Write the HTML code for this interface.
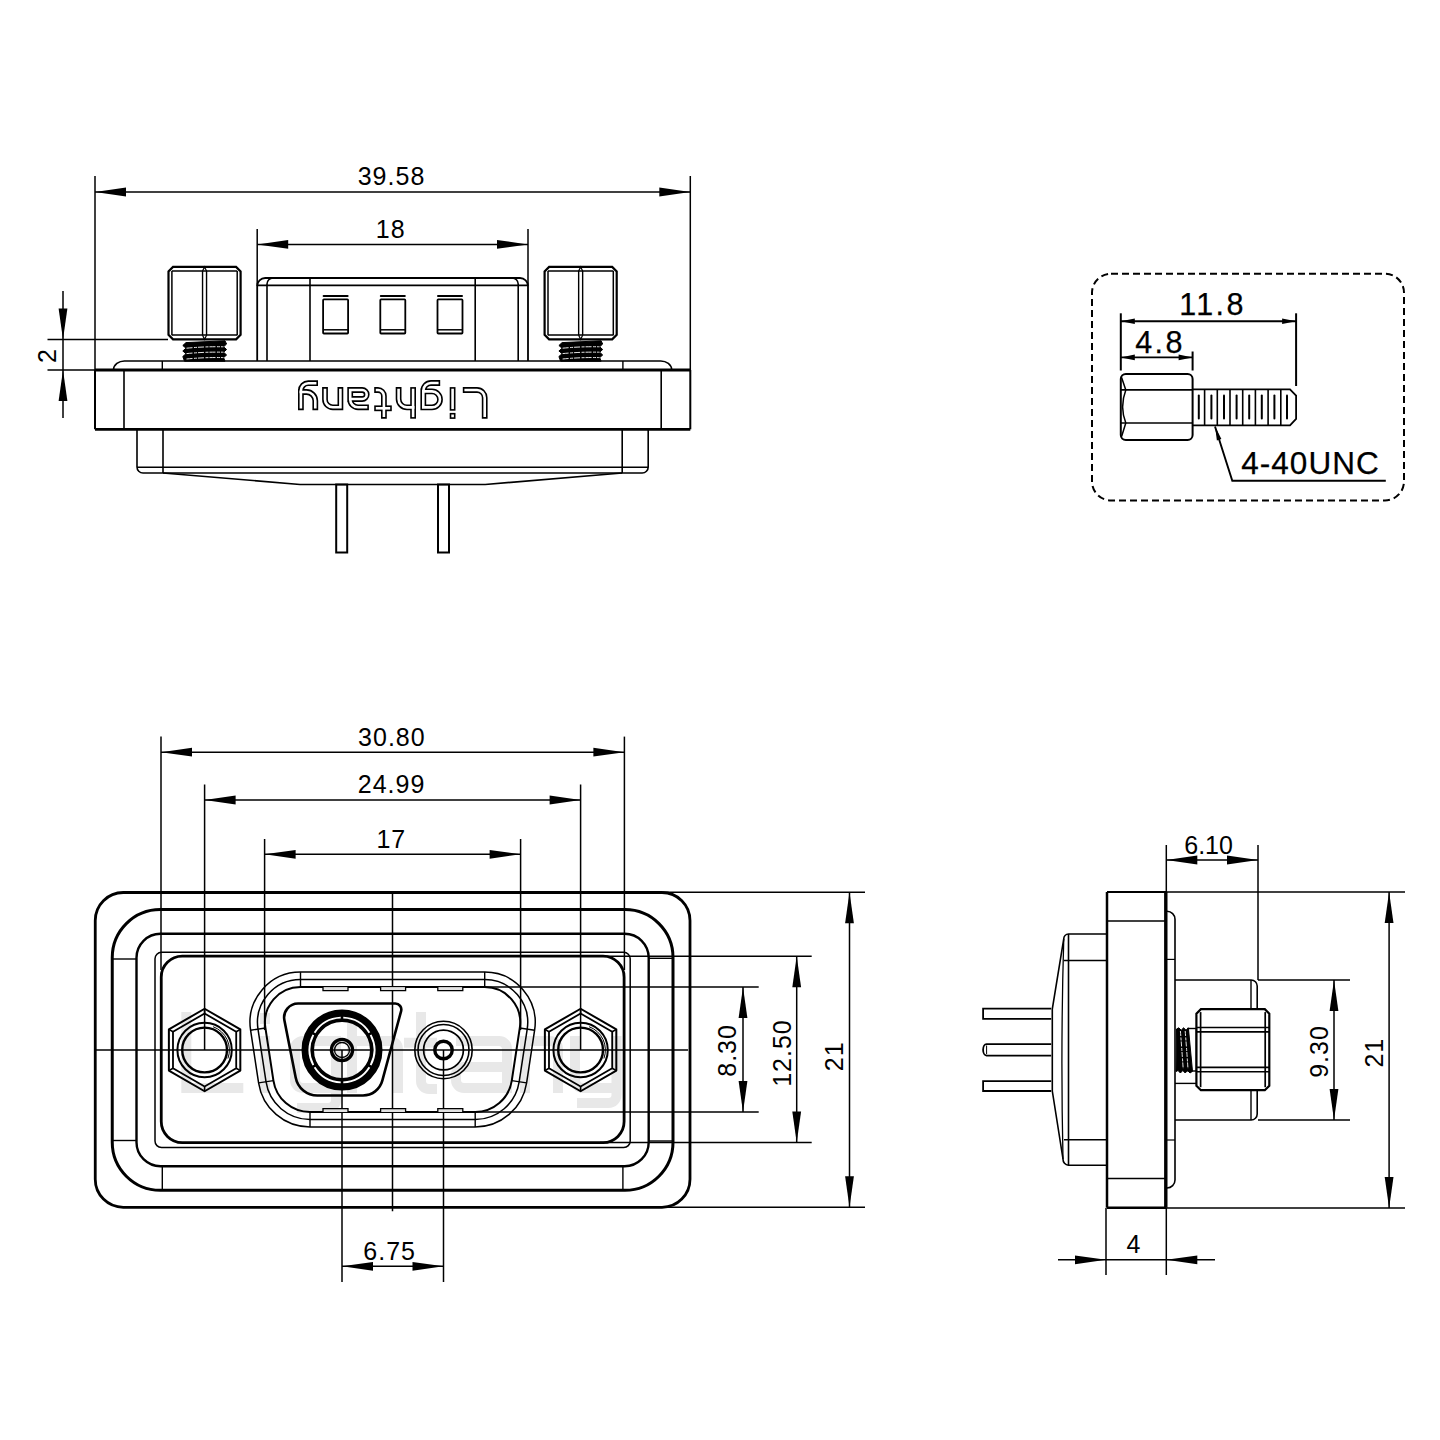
<!DOCTYPE html>
<html><head><meta charset="utf-8"><title>Connector drawing</title>
<style>html,body{margin:0;padding:0;background:#fff;width:1440px;height:1440px;overflow:hidden}
svg{display:block;font-family:"Liberation Sans",sans-serif}</style></head>
<body>
<svg width="1440" height="1440" viewBox="0 0 1440 1440" stroke="#000" fill="none">
<line x1="95.00" y1="176.00" x2="95.00" y2="370.00" stroke-width="1.5"/>
<line x1="690.30" y1="176.00" x2="690.30" y2="370.00" stroke-width="1.5"/>
<line x1="95.00" y1="192.00" x2="690.30" y2="192.00" stroke-width="1.5"/>
<path d="M95.00,192.00 L126.00,187.60 L126.00,196.40 Z" fill="#000" stroke="none"/>
<path d="M690.30,192.00 L659.30,196.40 L659.30,187.60 Z" fill="#000" stroke="none"/>
<text x="391.50" y="185.40" font-size="25" text-anchor="middle" letter-spacing="1" font-family="Liberation Sans" fill="#000" stroke="none">39.58</text>
<line x1="257.20" y1="229.00" x2="257.20" y2="286.00" stroke-width="1.5"/>
<line x1="528.00" y1="229.00" x2="528.00" y2="286.00" stroke-width="1.5"/>
<line x1="257.20" y1="244.40" x2="528.00" y2="244.40" stroke-width="1.5"/>
<path d="M257.20,244.40 L288.20,240.00 L288.20,248.80 Z" fill="#000" stroke="none"/>
<path d="M528.00,244.40 L497.00,248.80 L497.00,240.00 Z" fill="#000" stroke="none"/>
<text x="390.70" y="237.90" font-size="25" text-anchor="middle" letter-spacing="1" font-family="Liberation Sans" fill="#000" stroke="none">18</text>
<line x1="95.00" y1="370.00" x2="690.30" y2="370.00" stroke-width="2.8"/>
<line x1="95.00" y1="429.30" x2="690.30" y2="429.30" stroke-width="2.8"/>
<line x1="95.00" y1="370.00" x2="95.00" y2="429.30" stroke-width="2"/>
<line x1="690.30" y1="370.00" x2="690.30" y2="429.30" stroke-width="2"/>
<line x1="124.00" y1="370.00" x2="124.00" y2="429.30" stroke-width="1.6"/>
<line x1="661.20" y1="370.00" x2="661.20" y2="429.30" stroke-width="1.6"/>
<path d="M113.5,370 A11,9 0 0 1 125,361 H660.2 A11,9 0 0 1 671.7,370" stroke-width="1.6" fill="none" />
<line x1="162.30" y1="361.00" x2="162.30" y2="370.00" stroke-width="1.4"/>
<line x1="622.90" y1="361.00" x2="622.90" y2="370.00" stroke-width="1.4"/>
<path d="M257.2,361 V286 A8,8 0 0 1 265.2,278 H520.0 A8,8 0 0 1 528.0,286 V361" stroke-width="1.8" fill="none" />
<line x1="257.20" y1="285.40" x2="528.00" y2="285.40" stroke-width="1.6"/>
<path d="M267,361 V284 A6,6 0 0 1 273,278" stroke-width="1.6" fill="none" />
<path d="M518.2,361 V284 A6,6 0 0 0 512.2,278" stroke-width="1.6" fill="none" />
<line x1="310.00" y1="278.00" x2="310.00" y2="361.00" stroke-width="1.6"/>
<line x1="475.20" y1="278.00" x2="475.20" y2="361.00" stroke-width="1.6"/>
<line x1="323.6" y1="296" x2="347.6" y2="296" stroke-width="2" stroke-linecap="round"/>
<rect x="323.10" y="299.40" width="25.00" height="34.10" rx="0.8" stroke-width="1.8" fill="none"/>
<line x1="323.10" y1="329.80" x2="348.10" y2="329.80" stroke-width="1.5"/>
<line x1="380.8" y1="296" x2="404.8" y2="296" stroke-width="2" stroke-linecap="round"/>
<rect x="380.30" y="299.40" width="25.00" height="34.10" rx="0.8" stroke-width="1.8" fill="none"/>
<line x1="380.30" y1="329.80" x2="405.30" y2="329.80" stroke-width="1.5"/>
<line x1="438.0" y1="296" x2="462.0" y2="296" stroke-width="2" stroke-linecap="round"/>
<rect x="437.50" y="299.40" width="25.00" height="34.10" rx="0.8" stroke-width="1.8" fill="none"/>
<line x1="437.50" y1="329.80" x2="462.50" y2="329.80" stroke-width="1.5"/>
<path d="M173.0,266.9 H236.1 L240.6,271.4 V334.8 L236.1,339.3 H173.0 L168.5,334.8 V271.4 Z" stroke-width="2.2" fill="none" />
<line x1="171.90" y1="271.00" x2="237.20" y2="271.00" stroke-width="1.5"/>
<line x1="171.90" y1="335.00" x2="237.20" y2="335.00" stroke-width="1.5"/>
<line x1="171.90" y1="270.90" x2="171.90" y2="335.30" stroke-width="1.5"/>
<line x1="237.20" y1="270.90" x2="237.20" y2="335.30" stroke-width="1.5"/>
<line x1="202.55" y1="270.90" x2="202.55" y2="335.30" stroke-width="1.4"/>
<line x1="206.55" y1="270.90" x2="206.55" y2="335.30" stroke-width="1.4"/>
<path d="M202.55,270.9 L204.55,266.9 L206.55,270.9" stroke-width="1.2" fill="none" />
<path d="M202.55,335.3 L204.55,339.3 L206.55,335.3" stroke-width="1.2" fill="none" />
<path d="M186.0,342.6 L225.0,340.8 L226.6,344 L223.6,346.8 L226.6,349.5 L223.6,352.2 L226.6,355 L223.6,357.6 L225.0,361.2 H184.5 L182.8,356.5 L186.0,353.7 L182.8,351 L186.0,348.2 L182.8,345.5 Z" fill="#000" stroke="#000" stroke-width="1" stroke-linejoin="round"/>
<path d="M186.5,348.20000000000005 Q205.0,346.40000000000003 223.4,346.8" stroke="#fff" stroke-width="0.9" stroke-dasharray="6 1.5 3 1"/>
<path d="M186.5,353.6 Q205.0,351.8 223.4,352.2" stroke="#fff" stroke-width="0.9" stroke-dasharray="6 1.5 3 1"/>
<path d="M186.5,359.0 Q205.0,357.2 223.4,357.59999999999997" stroke="#fff" stroke-width="0.9" stroke-dasharray="6 1.5 3 1"/>
<path d="M549.1,266.9 H612.2 L616.7,271.4 V334.8 L612.2,339.3 H549.1 L544.6,334.8 V271.4 Z" stroke-width="2.2" fill="none" />
<line x1="548.00" y1="271.00" x2="613.30" y2="271.00" stroke-width="1.5"/>
<line x1="548.00" y1="335.00" x2="613.30" y2="335.00" stroke-width="1.5"/>
<line x1="548.00" y1="270.90" x2="548.00" y2="335.30" stroke-width="1.5"/>
<line x1="613.30" y1="270.90" x2="613.30" y2="335.30" stroke-width="1.5"/>
<line x1="578.65" y1="270.90" x2="578.65" y2="335.30" stroke-width="1.4"/>
<line x1="582.65" y1="270.90" x2="582.65" y2="335.30" stroke-width="1.4"/>
<path d="M578.65,270.9 L580.65,266.9 L582.65,270.9" stroke-width="1.2" fill="none" />
<path d="M578.65,335.3 L580.65,339.3 L582.65,335.3" stroke-width="1.2" fill="none" />
<path d="M562.1,342.6 L601.1,340.8 L602.7,344 L599.7,346.8 L602.7,349.5 L599.7,352.2 L602.7,355 L599.7,357.6 L601.1,361.2 H560.6 L558.9000000000001,356.5 L562.1,353.7 L558.9000000000001,351 L562.1,348.2 L558.9000000000001,345.5 Z" fill="#000" stroke="#000" stroke-width="1" stroke-linejoin="round"/>
<path d="M562.6,348.20000000000005 Q581.1,346.40000000000003 599.5,346.8" stroke="#fff" stroke-width="0.9" stroke-dasharray="6 1.5 3 1"/>
<path d="M562.6,353.6 Q581.1,351.8 599.5,352.2" stroke="#fff" stroke-width="0.9" stroke-dasharray="6 1.5 3 1"/>
<path d="M562.6,359.0 Q581.1,357.2 599.5,357.59999999999997" stroke="#fff" stroke-width="0.9" stroke-dasharray="6 1.5 3 1"/>
<path d="M137,429.3 V467 A6,6 0 0 0 143,473 H163 L300,484.5 H485.20000000000005 L622.2,473 H642.2 A6,6 0 0 0 648.2,467 V429.3" stroke-width="1.6" fill="none" />
<line x1="137.00" y1="467.20" x2="648.20" y2="467.20" stroke-width="1.5"/>
<line x1="163.00" y1="473.00" x2="622.20" y2="473.00" stroke-width="1.5"/>
<line x1="163.00" y1="429.30" x2="163.00" y2="473.00" stroke-width="1.6"/>
<line x1="622.20" y1="429.30" x2="622.20" y2="473.00" stroke-width="1.6"/>
<rect x="336.20" y="484.50" width="11.00" height="68.00" rx="0" stroke-width="2" fill="none"/>
<rect x="438.00" y="484.50" width="11.00" height="68.00" rx="0" stroke-width="2" fill="none"/>
<line x1="63.00" y1="291.00" x2="63.00" y2="418.00" stroke-width="1.5"/>
<path d="M63.00,339.40 L58.60,308.40 L67.40,308.40 Z" fill="#000" stroke="none"/>
<path d="M63.00,370.00 L67.40,401.00 L58.60,401.00 Z" fill="#000" stroke="none"/>
<line x1="47.50" y1="339.40" x2="168.00" y2="339.40" stroke-width="1.5"/>
<line x1="47.50" y1="370.00" x2="95.00" y2="370.00" stroke-width="1.5"/>
<text x="55.80" y="356.00" font-size="25" text-anchor="middle" letter-spacing="0" font-family="Liberation Sans" fill="#000" stroke="none" transform="rotate(-90 55.80 356.00)">2</text>
<rect x="1092" y="273.7" width="312" height="226.7" rx="19" stroke-width="2" fill="none" stroke-dasharray="7 4"/>
<line x1="1120.80" y1="313.30" x2="1120.80" y2="370.50" stroke-width="2"/>
<line x1="1296.10" y1="313.30" x2="1296.10" y2="386.00" stroke-width="2"/>
<line x1="1120.80" y1="321.25" x2="1296.10" y2="321.25" stroke-width="1.8"/>
<path d="M1120.80,321.25 L1134.80,318.45 L1134.80,324.05 Z" fill="#000" stroke="none"/>
<path d="M1296.10,321.25 L1282.10,324.05 L1282.10,318.45 Z" fill="#000" stroke="none"/>
<line x1="1192.60" y1="351.50" x2="1192.60" y2="370.50" stroke-width="2"/>
<line x1="1120.80" y1="357.40" x2="1192.60" y2="357.40" stroke-width="1.8"/>
<path d="M1120.80,357.40 L1134.80,354.60 L1134.80,360.20 Z" fill="#000" stroke="none"/>
<path d="M1192.60,357.40 L1178.60,360.20 L1178.60,354.60 Z" fill="#000" stroke="none"/>
<text x="1212.50" y="314.90" font-size="30.5" text-anchor="middle" letter-spacing="2.4" font-family="Liberation Sans" fill="#000" stroke="#000" stroke-width="0.25">11.8</text>
<text x="1160.00" y="353.30" font-size="30.5" text-anchor="middle" letter-spacing="2.4" font-family="Liberation Sans" fill="#000" stroke="#000" stroke-width="0.25">4.8</text>
<rect x="1120.80" y="374.00" width="71.80" height="66.00" rx="5" stroke-width="2" fill="none"/>
<line x1="1120.80" y1="389.90" x2="1192.60" y2="389.90" stroke-width="1.6"/>
<line x1="1120.80" y1="423.00" x2="1192.60" y2="423.00" stroke-width="1.6"/>
<path d="M1121.6,377.5 L1125.8,389.9 Q1119.5,406.5 1125.8,423 L1121.6,436.5" stroke-width="1.5" fill="none" />
<path d="M1192.6,389.4 H1290 L1296.1,395.6 V419 L1290,425.3 H1192.6" stroke-width="1.8" fill="none" />
<line x1="1204.60" y1="389.40" x2="1204.60" y2="425.30" stroke-width="1.6"/>
<line x1="1217.30" y1="389.40" x2="1217.30" y2="425.30" stroke-width="1.6"/>
<line x1="1230.00" y1="389.40" x2="1230.00" y2="425.30" stroke-width="1.6"/>
<line x1="1242.70" y1="389.40" x2="1242.70" y2="425.30" stroke-width="1.6"/>
<line x1="1255.40" y1="389.40" x2="1255.40" y2="425.30" stroke-width="1.6"/>
<line x1="1268.10" y1="389.40" x2="1268.10" y2="425.30" stroke-width="1.6"/>
<line x1="1280.80" y1="389.40" x2="1280.80" y2="425.30" stroke-width="1.6"/>
<line x1="1198.8" y1="395.5" x2="1198.8" y2="418.5" stroke-width="2" stroke-linecap="round"/>
<line x1="1211.4" y1="395.5" x2="1211.4" y2="418.5" stroke-width="2" stroke-linecap="round"/>
<line x1="1224" y1="395.5" x2="1224" y2="418.5" stroke-width="2" stroke-linecap="round"/>
<line x1="1236.6" y1="395.5" x2="1236.6" y2="418.5" stroke-width="2" stroke-linecap="round"/>
<line x1="1249.2" y1="395.5" x2="1249.2" y2="418.5" stroke-width="2" stroke-linecap="round"/>
<line x1="1261.8" y1="395.5" x2="1261.8" y2="418.5" stroke-width="2" stroke-linecap="round"/>
<line x1="1274.4" y1="395.5" x2="1274.4" y2="418.5" stroke-width="2" stroke-linecap="round"/>
<line x1="1287" y1="395.5" x2="1287" y2="418.5" stroke-width="2" stroke-linecap="round"/>
<path d="M1215,426.5 L1232.3,480.8 H1385.8" stroke-width="1.9" fill="none" />
<path d="M1215.2,426.8 L1216.9,440.5 L1221.4,439.1 Z" fill="#000" stroke="none"/>
<text x="1310.50" y="473.80" font-size="31.5" text-anchor="middle" letter-spacing="1.0" font-family="Liberation Sans" fill="#000" stroke="#000" stroke-width="0.25">4-40UNC</text>
<g stroke="#e8e8e8" stroke-width="10" fill="none" stroke-linecap="butt"><path d="M186.3,1012 V1088 H243.3"/><path d="M265,1013 V1024"/><path d="M265,1036 V1093"/><path d="M336,1036 V1100 A8,8 0 0 1 328,1108 H297"/><path d="M336,1041 H303 A8,8 0 0 0 295,1049 V1080 A8,8 0 0 0 303,1088 H336"/><path d="M352,1012 V1093"/><path d="M352,1041 H390 A8,8 0 0 1 398,1049 V1093"/><path d="M421,1012 V1081 A8,8 0 0 0 429,1089 H437"/><path d="M404,1042.8 H437"/><path d="M456,1041 H498 A8,8 0 0 1 507,1049 V1093"/><path d="M507,1067 H464 A8,8 0 0 0 456,1075 V1080 A8,8 0 0 0 464,1088 H507"/><path d="M525,1036 V1093"/><path d="M525,1041 H550 A8,8 0 0 1 558,1049 V1093"/><path d="M575,1036 V1080 A8,8 0 0 0 583,1088 H616.5"/><path d="M616.5,1036 V1095 A8,8 0 0 1 608.5,1103 H577"/></g>
<line x1="161.00" y1="736.60" x2="161.00" y2="970.00" stroke-width="1.5"/>
<line x1="624.40" y1="736.60" x2="624.40" y2="970.00" stroke-width="1.5"/>
<line x1="162.30" y1="1166.20" x2="162.30" y2="1190.30" stroke-width="1.4"/>
<line x1="622.90" y1="1166.20" x2="622.90" y2="1190.30" stroke-width="1.4"/>
<line x1="161.00" y1="752.20" x2="624.40" y2="752.20" stroke-width="1.5"/>
<path d="M161.00,752.20 L192.00,747.80 L192.00,756.60 Z" fill="#000" stroke="none"/>
<path d="M624.40,752.20 L593.40,756.60 L593.40,747.80 Z" fill="#000" stroke="none"/>
<text x="391.90" y="746.10" font-size="25" text-anchor="middle" letter-spacing="1" font-family="Liberation Sans" fill="#000" stroke="none">30.80</text>
<line x1="204.60" y1="784.40" x2="204.60" y2="1050.00" stroke-width="1.5"/>
<line x1="580.60" y1="784.40" x2="580.60" y2="1050.00" stroke-width="1.5"/>
<line x1="204.60" y1="800.00" x2="580.60" y2="800.00" stroke-width="1.5"/>
<path d="M204.60,800.00 L235.60,795.60 L235.60,804.40 Z" fill="#000" stroke="none"/>
<path d="M580.60,800.00 L549.60,804.40 L549.60,795.60 Z" fill="#000" stroke="none"/>
<text x="391.60" y="793.00" font-size="25" text-anchor="middle" letter-spacing="1" font-family="Liberation Sans" fill="#000" stroke="none">24.99</text>
<line x1="264.60" y1="839.00" x2="264.60" y2="1030.00" stroke-width="1.5"/>
<line x1="520.60" y1="839.00" x2="520.60" y2="1030.00" stroke-width="1.5"/>
<line x1="264.60" y1="854.30" x2="520.60" y2="854.30" stroke-width="1.5"/>
<path d="M264.60,854.30 L295.60,849.90 L295.60,858.70 Z" fill="#000" stroke="none"/>
<path d="M520.60,854.30 L489.60,858.70 L489.60,849.90 Z" fill="#000" stroke="none"/>
<text x="391.30" y="847.90" font-size="25" text-anchor="middle" letter-spacing="1" font-family="Liberation Sans" fill="#000" stroke="none">17</text>
<line x1="392.50" y1="892.50" x2="392.50" y2="1211.20" stroke-width="1.5"/>
<line x1="96.00" y1="1050.00" x2="688.00" y2="1050.00" stroke-width="1.5"/>
<line x1="342.00" y1="1050.00" x2="342.00" y2="1282.00" stroke-width="1.5"/>
<line x1="443.50" y1="1050.00" x2="443.50" y2="1282.00" stroke-width="1.5"/>
<line x1="342.00" y1="1266.30" x2="443.50" y2="1266.30" stroke-width="1.5"/>
<path d="M342.00,1266.30 L373.00,1261.90 L373.00,1270.70 Z" fill="#000" stroke="none"/>
<path d="M443.50,1266.30 L412.50,1270.70 L412.50,1261.90 Z" fill="#000" stroke="none"/>
<text x="389.70" y="1259.80" font-size="25" text-anchor="middle" letter-spacing="1" font-family="Liberation Sans" fill="#000" stroke="none">6.75</text>
<line x1="663.00" y1="892.30" x2="865.00" y2="892.30" stroke-width="1.5"/>
<line x1="663.00" y1="1207.30" x2="865.00" y2="1207.30" stroke-width="1.5"/>
<line x1="849.50" y1="892.30" x2="849.50" y2="1207.30" stroke-width="1.5"/>
<path d="M849.50,892.30 L853.90,923.30 L845.10,923.30 Z" fill="#000" stroke="none"/>
<path d="M849.50,1207.30 L845.10,1176.30 L853.90,1176.30 Z" fill="#000" stroke="none"/>
<text x="843.20" y="1056.30" font-size="25" text-anchor="middle" letter-spacing="1" font-family="Liberation Sans" fill="#000" stroke="none" transform="rotate(-90 843.20 1056.30)">21</text>
<line x1="600.00" y1="956.20" x2="811.70" y2="956.20" stroke-width="1.5"/>
<line x1="600.00" y1="1142.60" x2="811.70" y2="1142.60" stroke-width="1.5"/>
<line x1="796.70" y1="956.20" x2="796.70" y2="1142.60" stroke-width="1.5"/>
<path d="M796.70,956.20 L801.10,987.20 L792.30,987.20 Z" fill="#000" stroke="none"/>
<path d="M796.70,1142.60 L792.30,1111.60 L801.10,1111.60 Z" fill="#000" stroke="none"/>
<text x="790.60" y="1053.00" font-size="25" text-anchor="middle" letter-spacing="1" font-family="Liberation Sans" fill="#000" stroke="none" transform="rotate(-90 790.60 1053.00)">12.50</text>
<line x1="485.00" y1="987.00" x2="758.70" y2="987.00" stroke-width="1.5"/>
<line x1="475.00" y1="1112.00" x2="758.70" y2="1112.00" stroke-width="1.5"/>
<line x1="743.00" y1="987.00" x2="743.00" y2="1112.00" stroke-width="1.5"/>
<path d="M743.00,987.00 L747.40,1018.00 L738.60,1018.00 Z" fill="#000" stroke="none"/>
<path d="M743.00,1112.00 L738.60,1081.00 L747.40,1081.00 Z" fill="#000" stroke="none"/>
<text x="736.20" y="1050.40" font-size="25" text-anchor="middle" letter-spacing="1" font-family="Liberation Sans" fill="#000" stroke="none" transform="rotate(-90 736.20 1050.40)">8.30</text>
<rect x="95.25" y="892.50" width="594.75" height="314.80" rx="28" stroke-width="2.8" fill="none"/>
<rect x="112.25" y="909.60" width="560.75" height="280.70" rx="48" stroke-width="3.0" fill="none"/>
<line x1="112.25" y1="959.00" x2="136.50" y2="959.00" stroke-width="1.4"/>
<line x1="112.25" y1="1140.50" x2="136.50" y2="1140.50" stroke-width="1.4"/>
<line x1="648.70" y1="958.30" x2="673.00" y2="958.30" stroke-width="1.4"/>
<line x1="648.70" y1="1141.00" x2="673.00" y2="1141.00" stroke-width="1.4"/>
<rect x="136.50" y="933.75" width="512.20" height="232.45" rx="24" stroke-width="2.4" fill="none"/>
<rect x="155.00" y="952.30" width="475.20" height="195.20" rx="6.5" stroke-width="1.5" fill="none"/>
<rect x="161.25" y="956.20" width="462.85" height="186.40" rx="21" stroke-width="2.8" fill="none"/>
<path d="M484.70,972.10 H300.50 A50.50,50.50 0 0 0 250.58,1030.21 L258.59,1082.83 A52.00,52.00 0 0 0 310.00,1127.00 H475.20 A52.00,52.00 0 0 0 526.61,1082.83 L534.62,1030.21 A50.50,50.50 0 0 0 484.70,972.10 Z" stroke-width="1.5" fill="none" />
<path d="M484.70,979.60 H300.50 A43.00,43.00 0 0 0 257.99,1029.08 L266.01,1081.70 A44.50,44.50 0 0 0 310.00,1119.50 H475.20 A44.50,44.50 0 0 0 519.19,1081.70 L527.21,1029.08 A43.00,43.00 0 0 0 484.70,979.60 Z" stroke-width="1.5" fill="none" />
<path d="M484.70,987.10 H300.50 A35.50,35.50 0 0 0 265.40,1027.95 L273.42,1080.57 A37.00,37.00 0 0 0 310.00,1112.00 H475.20 A37.00,37.00 0 0 0 511.78,1080.57 L519.80,1027.95 A35.50,35.50 0 0 0 484.70,987.10 Z" stroke-width="2.0" fill="none" />
<line x1="250.58" y1="1030.21" x2="265.40" y2="1027.95" stroke-width="1.4"/>
<line x1="534.62" y1="1030.21" x2="519.80" y2="1027.95" stroke-width="1.4"/>
<line x1="258.59" y1="1082.83" x2="273.42" y2="1080.57" stroke-width="1.4"/>
<line x1="526.61" y1="1082.83" x2="511.78" y2="1080.57" stroke-width="1.4"/>
<line x1="300.50" y1="972.10" x2="300.50" y2="987.10" stroke-width="1.4"/>
<line x1="484.70" y1="972.10" x2="484.70" y2="987.10" stroke-width="1.4"/>
<line x1="310.00" y1="1112.00" x2="310.00" y2="1127.00" stroke-width="1.4"/>
<line x1="475.20" y1="1112.00" x2="475.20" y2="1127.00" stroke-width="1.4"/>
<path d="M323,987.1 V990.6 H348 V987.1" stroke-width="1.3" fill="#e2e2e2" />
<path d="M323,1112 V1108.6 H348 V1112" stroke-width="1.3" fill="#e2e2e2" />
<path d="M380.6,987.1 V990.6 H405.6 V987.1" stroke-width="1.3" fill="#e2e2e2" />
<path d="M380.6,1112 V1108.6 H405.6 V1112" stroke-width="1.3" fill="#e2e2e2" />
<path d="M437.8,987.1 V990.6 H462.8 V987.1" stroke-width="1.3" fill="#e2e2e2" />
<path d="M437.8,1112 V1108.6 H462.8 V1112" stroke-width="1.3" fill="#e2e2e2" />
<path d="M298.13,1003.50 L395.32,1003.50 A6,6 0 0 1 401.11,1011.06 L382.31,1080.71 A20,20 0 0 1 363.00,1095.50 L317.31,1095.50 A22,22 0 0 1 295.73,1077.75 L284.39,1020.21 A14,14 0 0 1 298.13,1003.50 Z" stroke-width="2.6" fill="none" />
<circle cx="342.00" cy="1050.00" r="34.25" stroke-width="12.5" fill="none" />
<g stroke="#fff">
<path d="M369.40,1032.71 A32.4,32.4 0 0 0 343.27,1017.62 M340.73,1017.62 A32.4,32.4 0 0 0 314.60,1032.71 M313.33,1034.91 A32.4,32.4 0 0 0 313.33,1065.09 M314.60,1067.29 A32.4,32.4 0 0 0 340.73,1082.38 M343.27,1082.38 A32.4,32.4 0 0 0 369.40,1067.29 M370.67,1065.09 A32.4,32.4 0 0 0 370.67,1034.91" stroke-width="1.9" fill="none" />
</g>
<circle cx="342.00" cy="1050.00" r="10.60" stroke-width="3.3" fill="none" />
<circle cx="342.00" cy="1050.00" r="7.50" stroke-width="1.3" fill="none" />
<circle cx="443.50" cy="1050.00" r="28.70" stroke-width="1.6" fill="none" />
<circle cx="443.50" cy="1050.00" r="25.50" stroke-width="1.6" fill="none" />
<circle cx="443.50" cy="1050.00" r="19.90" stroke-width="1.7" fill="none" />
<circle cx="443.50" cy="1050.00" r="8.75" stroke-width="3.4" fill="none" />
<path d="M204.60,1008.75 L168.88,1029.38 L168.88,1070.62 L204.60,1091.25 L240.32,1070.62 L240.32,1029.38 Z" stroke-width="2.0" fill="none" stroke-linejoin="round"/>
<path d="M204.60,1013.50 L172.99,1031.75 L172.99,1068.25 L204.60,1086.50 L236.21,1068.25 L236.21,1031.75 Z" stroke-width="1.8" fill="none" />
<line x1="204.60" y1="1008.75" x2="204.60" y2="1013.50" stroke-width="1.6"/>
<line x1="168.88" y1="1029.38" x2="172.99" y2="1031.75" stroke-width="1.6"/>
<line x1="168.88" y1="1070.62" x2="172.99" y2="1068.25" stroke-width="1.6"/>
<line x1="204.60" y1="1091.25" x2="204.60" y2="1086.50" stroke-width="1.6"/>
<line x1="240.32" y1="1070.62" x2="236.21" y2="1068.25" stroke-width="1.6"/>
<line x1="240.32" y1="1029.38" x2="236.21" y2="1031.75" stroke-width="1.6"/>
<circle cx="204.60" cy="1050.00" r="27.20" stroke-width="2.0" fill="none" />
<circle cx="204.60" cy="1050.00" r="22.40" stroke-width="2.4" fill="none" />
<path d="M213.08,1026.70 A24.8,24.8 0 0 1 227.90,1058.48" stroke-width="1.0" fill="none" />
<path d="M580.60,1008.75 L544.88,1029.38 L544.88,1070.62 L580.60,1091.25 L616.32,1070.62 L616.32,1029.38 Z" stroke-width="2.0" fill="none" stroke-linejoin="round"/>
<path d="M580.60,1013.50 L548.99,1031.75 L548.99,1068.25 L580.60,1086.50 L612.21,1068.25 L612.21,1031.75 Z" stroke-width="1.8" fill="none" />
<line x1="580.60" y1="1008.75" x2="580.60" y2="1013.50" stroke-width="1.6"/>
<line x1="544.88" y1="1029.38" x2="548.99" y2="1031.75" stroke-width="1.6"/>
<line x1="544.88" y1="1070.62" x2="548.99" y2="1068.25" stroke-width="1.6"/>
<line x1="580.60" y1="1091.25" x2="580.60" y2="1086.50" stroke-width="1.6"/>
<line x1="616.32" y1="1070.62" x2="612.21" y2="1068.25" stroke-width="1.6"/>
<line x1="616.32" y1="1029.38" x2="612.21" y2="1031.75" stroke-width="1.6"/>
<circle cx="580.60" cy="1050.00" r="27.20" stroke-width="2.0" fill="none" />
<circle cx="580.60" cy="1050.00" r="22.40" stroke-width="2.4" fill="none" />
<path d="M589.08,1026.70 A24.8,24.8 0 0 1 603.90,1058.48" stroke-width="1.0" fill="none" />
<line x1="1107.00" y1="892.00" x2="1107.00" y2="1207.80" stroke-width="2.5"/>
<line x1="1165.80" y1="892.00" x2="1165.80" y2="1207.80" stroke-width="3.4"/>
<line x1="1107.00" y1="892.00" x2="1166.00" y2="892.00" stroke-width="2.0"/>
<line x1="1107.00" y1="1207.80" x2="1166.00" y2="1207.80" stroke-width="2.4"/>
<line x1="1107.00" y1="921.00" x2="1165.80" y2="921.00" stroke-width="1.6"/>
<line x1="1107.00" y1="1178.50" x2="1165.80" y2="1178.50" stroke-width="1.6"/>
<path d="M1165.8,911.3 H1167 A8,8 0 0 1 1175,919.3 V1180 A8,8 0 0 1 1167,1188 H1165.8" stroke-width="1.6" fill="none" />
<line x1="1165.80" y1="959.40" x2="1175.00" y2="959.40" stroke-width="1.2"/>
<line x1="1165.80" y1="1140.00" x2="1175.00" y2="1140.00" stroke-width="1.2"/>
<path d="M1107,934 H1068.5 A5,5 0 0 0 1063.75,939 L1052.3,1009 V1091 L1063,1159 A6,6 0 0 0 1068.5,1165.3 H1107" stroke-width="1.6" fill="none" />
<line x1="1068.50" y1="934.00" x2="1068.50" y2="1165.30" stroke-width="1.6"/>
<path d="M1063.75,939 Q1060.5,1050 1063,1159" stroke-width="1.3" fill="none" />
<line x1="1064.00" y1="960.60" x2="1107.00" y2="960.60" stroke-width="1.5"/>
<line x1="1064.00" y1="1139.80" x2="1107.00" y2="1139.80" stroke-width="1.5"/>
<path d="M1051.2,1008.7 H983.1 V1018.9 H1051.2" stroke-width="1.8" fill="none" />
<path d="M1051.2,1044.1 H986.5 A3.4,5.75 0 0 0 986.5,1055.6 H1051.2" stroke-width="1.8" fill="none" />
<line x1="986.60" y1="1045.50" x2="986.60" y2="1054.20" stroke-width="1.0"/>
<path d="M1051.2,1081.1 H983.1 V1091 H1051.2" stroke-width="1.8" fill="none" />
<path d="M1175,980 H1251.2 A6,6 0 0 1 1257.2,986 V1009.5 M1257.2,1089.8 V1114 A6,6 0 0 1 1251.2,1120 H1175" stroke-width="1.6" fill="none" />
<line x1="1251.00" y1="980.00" x2="1251.00" y2="1009.00" stroke-width="1.4"/>
<line x1="1251.00" y1="1090.00" x2="1251.00" y2="1120.00" stroke-width="1.4"/>
<line x1="1175.00" y1="1083.40" x2="1196.40" y2="1083.40" stroke-width="1.4"/>
<path d="M1200.9,1009.1 H1264.8 L1269.3,1013.6 V1085.7 L1264.8,1090.2 H1200.9 L1196.4,1085.7 V1013.6 Z" stroke-width="2.2" fill="none" />
<line x1="1200.60" y1="1012.10" x2="1200.60" y2="1087.20" stroke-width="1.7"/>
<line x1="1265.20" y1="1012.10" x2="1265.20" y2="1087.20" stroke-width="1.7"/>
<line x1="1196.40" y1="1027.50" x2="1269.30" y2="1027.50" stroke-width="1.6"/>
<line x1="1196.40" y1="1031.90" x2="1269.30" y2="1031.90" stroke-width="1.6"/>
<line x1="1196.40" y1="1067.40" x2="1269.30" y2="1067.40" stroke-width="1.6"/>
<line x1="1196.40" y1="1071.80" x2="1269.30" y2="1071.80" stroke-width="1.6"/>
<rect x="1188.00" y="1028.50" width="8.40" height="42.50" rx="0" stroke-width="1.4" fill="none"/>
<path d="M1176.5,1029 L1178.8,1027.8 L1181.2,1030.2 L1183.6,1027.8 L1186,1030.2 L1188.4,1027.8 L1192.5,1071.3 L1190,1073 L1187.6,1070.5 L1185.2,1073 L1182.8,1070.5 L1180.4,1073 L1178,1070.5 L1176,1071.5 Z" fill="#000" stroke="#000" stroke-width="1" stroke-linejoin="round"/>
<path d="M1180.4,1031 Q1181.9,1050 1183.2,1069" stroke="#fff" stroke-width="0.9" stroke-dasharray="5 1.5 3 1"/>
<path d="M1185.2,1031 Q1186.7,1050 1188.0,1069" stroke="#fff" stroke-width="0.9" stroke-dasharray="5 1.5 3 1"/>
<line x1="1166.30" y1="845.00" x2="1166.30" y2="892.00" stroke-width="1.5"/>
<line x1="1258.00" y1="845.00" x2="1258.00" y2="980.00" stroke-width="1.5"/>
<line x1="1166.30" y1="860.00" x2="1258.00" y2="860.00" stroke-width="1.5"/>
<path d="M1166.30,860.00 L1197.30,855.60 L1197.30,864.40 Z" fill="#000" stroke="none"/>
<path d="M1258.00,860.00 L1227.00,864.40 L1227.00,855.60 Z" fill="#000" stroke="none"/>
<text x="1208.60" y="854.20" font-size="25" text-anchor="middle" letter-spacing="0" font-family="Liberation Sans" fill="#000" stroke="none">6.10</text>
<line x1="1106.00" y1="1208.00" x2="1106.00" y2="1275.00" stroke-width="1.5"/>
<line x1="1166.30" y1="1208.00" x2="1166.30" y2="1275.00" stroke-width="1.5"/>
<line x1="1058.00" y1="1259.80" x2="1215.00" y2="1259.80" stroke-width="1.5"/>
<path d="M1106.00,1259.80 L1075.00,1264.20 L1075.00,1255.40 Z" fill="#000" stroke="none"/>
<path d="M1166.30,1259.80 L1197.30,1255.40 L1197.30,1264.20 Z" fill="#000" stroke="none"/>
<text x="1134.00" y="1253.00" font-size="25" text-anchor="middle" letter-spacing="1" font-family="Liberation Sans" fill="#000" stroke="none">4</text>
<line x1="1166.00" y1="892.00" x2="1405.00" y2="892.00" stroke-width="1.5"/>
<line x1="1166.00" y1="1208.00" x2="1405.00" y2="1208.00" stroke-width="1.5"/>
<line x1="1389.10" y1="892.00" x2="1389.10" y2="1208.00" stroke-width="1.5"/>
<path d="M1389.10,892.00 L1393.50,923.00 L1384.70,923.00 Z" fill="#000" stroke="none"/>
<path d="M1389.10,1208.00 L1384.70,1177.00 L1393.50,1177.00 Z" fill="#000" stroke="none"/>
<text x="1382.60" y="1052.70" font-size="25" text-anchor="middle" letter-spacing="1" font-family="Liberation Sans" fill="#000" stroke="none" transform="rotate(-90 1382.60 1052.70)">21</text>
<line x1="1258.00" y1="980.00" x2="1350.00" y2="980.00" stroke-width="1.5"/>
<line x1="1258.00" y1="1120.00" x2="1350.00" y2="1120.00" stroke-width="1.5"/>
<line x1="1334.00" y1="980.00" x2="1334.00" y2="1120.00" stroke-width="1.5"/>
<path d="M1334.00,980.00 L1338.40,1011.00 L1329.60,1011.00 Z" fill="#000" stroke="none"/>
<path d="M1334.00,1120.00 L1329.60,1089.00 L1338.40,1089.00 Z" fill="#000" stroke="none"/>
<text x="1327.60" y="1051.50" font-size="25" text-anchor="middle" letter-spacing="1" font-family="Liberation Sans" fill="#000" stroke="none" transform="rotate(-90 1327.60 1051.50)">9.30</text>
<g fill="none" stroke-linecap="square" stroke-linejoin="miter"><g stroke="#000" stroke-width="5.8"><path d="M300.9,407.3 V390.5 A7.3,7.3 0 0 1 308.2,383.2 H315.1"/><path d="M300.9,392 H306.5 A8.8,8.8 0 0 1 315.3,400.8 V407.3"/><path d="M325,390 V399.5 A7.8,7.8 0 0 0 332.8,407.3 H340.4 V390"/><path d="M366,407.3 H358 A7.8,7.8 0 0 1 350.2,399.5 V390 H362.2 A4.5,4.5 0 0 1 362.2,399 H350.2"/><path d="M377.1,390 H378 A5.9,5.9 0 0 1 383.9,395.9 V415.8"/><path d="M377.1,408.3 H388.9"/><path d="M413.1,390 V415.8"/><path d="M398.6,390 V399 A8.4,8.4 0 0 0 407,407.4 H413.1"/><path d="M437.3,383 H431 A7.7,7.7 0 0 0 423.3,390.7 V407.4 H432 A8,8 0 0 0 440,399.4 A8,8 0 0 0 432,391.4 H423.3"/><path d="M452.6,390 V407.8"/><path d="M452.6,415.8 V416"/><path d="M465.7,390 H477 A7.7,7.7 0 0 1 484.7,397.7 V415.8"/></g><g stroke="#fff" stroke-width="2.6"><path d="M300.9,407.3 V390.5 A7.3,7.3 0 0 1 308.2,383.2 H315.1"/><path d="M300.9,392 H306.5 A8.8,8.8 0 0 1 315.3,400.8 V407.3"/><path d="M325,390 V399.5 A7.8,7.8 0 0 0 332.8,407.3 H340.4 V390"/><path d="M366,407.3 H358 A7.8,7.8 0 0 1 350.2,399.5 V390 H362.2 A4.5,4.5 0 0 1 362.2,399 H350.2"/><path d="M377.1,390 H378 A5.9,5.9 0 0 1 383.9,395.9 V415.8"/><path d="M377.1,408.3 H388.9"/><path d="M413.1,390 V415.8"/><path d="M398.6,390 V399 A8.4,8.4 0 0 0 407,407.4 H413.1"/><path d="M437.3,383 H431 A7.7,7.7 0 0 0 423.3,390.7 V407.4 H432 A8,8 0 0 0 440,399.4 A8,8 0 0 0 432,391.4 H423.3"/><path d="M452.6,390 V407.8"/><path d="M452.6,415.8 V416"/><path d="M465.7,390 H477 A7.7,7.7 0 0 1 484.7,397.7 V415.8"/></g></g>
</svg>
</body></html>
